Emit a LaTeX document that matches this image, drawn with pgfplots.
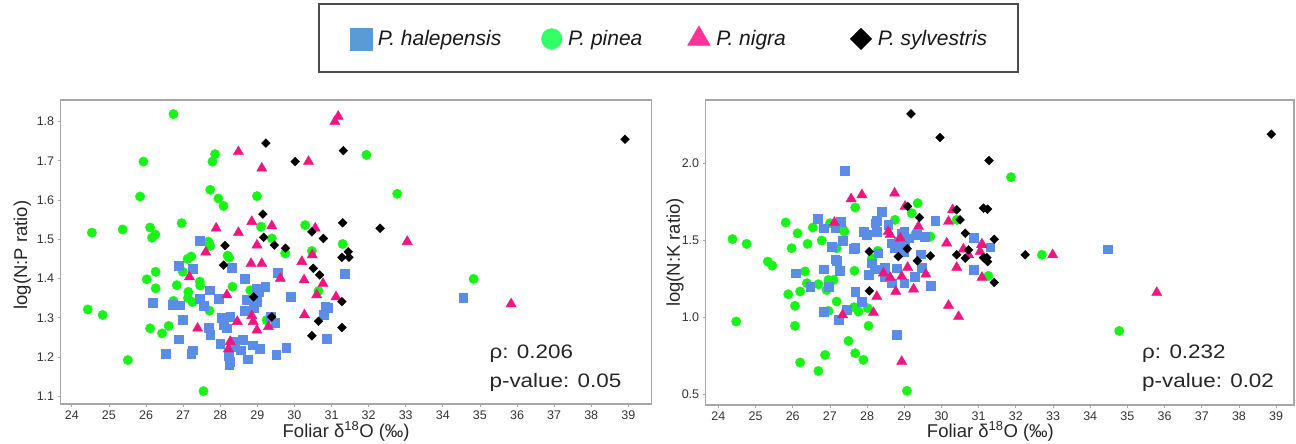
\documentclass[border=0pt]{standalone}
\usepackage{fontspec}
\setmainfont{Liberation Sans}
\newfontfamily\statfont{Liberation Sans}[FakeStretch=1.15]
\usepackage{pgfplots}
\usepackage{pgfplotstable}
\pgfplotsset{compat=1.18}

\definecolor{axgray}{HTML}{A6A6A6}
\definecolor{cblue}{HTML}{5B8DE6}
\definecolor{cgreen}{HTML}{18F418}
\definecolor{cpink}{HTML}{F0167F}
\definecolor{lblue}{HTML}{5B9BD5}
\definecolor{lgreen}{HTML}{33FF66}
\definecolor{lpink}{HTML}{FF3399}

% left panel: log(N:P)
\pgfplotstableread{
x y
26.74 1.819
25.93 1.698
25.84 1.609
26.96 1.541
25.37 1.525
26.11 1.530
24.54 1.517
26.16 1.504
26.25 1.512
26.02 1.398
26.26 1.417
26.26 1.375
24.43 1.321
24.83 1.307
26.11 1.273
26.43 1.260
26.61 1.279
25.51 1.192
27.55 1.113
27.86 1.717
27.79 1.698
27.73 1.626
27.95 1.604
28.09 1.585
28.99 1.610
27.68 1.494
27.73 1.483
27.12 1.450
27.22 1.456
26.99 1.417
26.83 1.383
27.14 1.366
27.13 1.350
27.25 1.340
26.74 1.343
27.45 1.392
27.46 1.382
27.71 1.318
28.20 1.458
28.24 1.453
28.33 1.379
28.81 1.370
29.10 1.532
29.39 1.502
29.75 1.464
30.29 1.536
30.47 1.470
30.65 1.368
29.25 1.294
31.94 1.715
32.77 1.616
31.30 1.488
34.83 1.399
}\npGreen
\pgfplotstableread{
x y
27.44 1.496
26.88 1.433
27.26 1.424
28.31 1.427
29.55 1.415
28.67 1.400
27.71 1.370
27.95 1.348
26.18 1.339
26.71 1.334
26.92 1.332
27.44 1.349
27.55 1.330
26.99 1.294
26.88 1.245
26.54 1.208
27.22 1.209
27.26 1.217
27.68 1.275
27.73 1.257
28.04 1.300
28.27 1.302
28.09 1.283
28.18 1.273
28.00 1.234
28.22 1.203
28.27 1.188
28.24 1.179
28.36 1.239
28.40 1.226
28.56 1.217
28.61 1.243
28.74 1.194
28.65 1.317
28.72 1.345
28.99 1.341
29.04 1.366
28.90 1.324
28.99 1.375
29.21 1.379
28.87 1.230
29.06 1.220
29.48 1.288
29.51 1.205
29.78 1.224
29.89 1.353
29.35 1.302
30.83 1.328
30.87 1.247
31.36 1.413
30.90 1.326
30.78 1.307
34.55 1.352
}\npBlue
\pgfplotstableread{
x y
28.49 1.723
30.38 1.698
29.12 1.681
27.89 1.528
28.49 1.517
28.85 1.545
29.39 1.534
30.56 1.528
28.99 1.485
29.12 1.438
28.83 1.438
27.61 1.467
27.17 1.404
30.20 1.443
30.26 1.396
29.62 1.400
30.48 1.460
30.77 1.387
30.60 1.358
28.18 1.358
28.46 1.290
28.85 1.305
28.89 1.290
28.99 1.268
29.30 1.277
30.27 1.307
27.39 1.273
28.22 1.220
28.27 1.239
31.18 1.813
31.09 1.800
33.04 1.494
31.12 1.353
35.84 1.335
}\npPink
\pgfplotstableread{
x y
29.23 1.745
30.02 1.698
29.15 1.564
29.17 1.505
29.46 1.485
29.76 1.477
28.13 1.484
28.09 1.434
30.51 1.426
30.68 1.409
30.47 1.519
30.78 1.502
28.90 1.353
29.39 1.302
30.65 1.291
30.47 1.254
31.32 1.726
32.31 1.528
31.30 1.542
31.45 1.468
31.28 1.454
31.47 1.454
31.28 1.341
31.28 1.275
38.91 1.755
}\npBlack

% right panel: log(N:K)
\pgfplotstableread{
x y
24.38 1.507
24.76 1.476
24.48 0.972
25.33 1.361
25.45 1.335
25.81 1.615
25.97 1.448
26.13 1.545
26.40 1.476
26.54 1.582
26.78 1.498
25.88 1.149
26.06 1.074
26.06 0.944
26.20 1.167
26.33 1.297
26.38 1.221
26.20 0.706
26.69 0.651
26.87 0.755
26.69 1.214
26.96 1.242
27.10 1.242
26.91 1.177
26.96 1.041
27.18 1.102
27.18 1.448
27.36 1.567
27.39 1.556
27.00 1.610
27.66 1.301
27.68 1.712
27.50 0.846
27.68 0.766
27.77 1.037
27.65 1.065
27.90 0.723
28.02 1.058
28.04 0.944
28.13 1.383
28.29 1.431
28.75 1.632
29.20 1.675
29.36 1.740
29.29 1.535
29.70 1.524
29.07 0.522
30.41 1.632
31.87 1.909
32.70 1.405
31.26 1.268
34.78 0.911
}\nkGreen
\pgfplotstableread{
x y
27.39 1.952
26.67 1.639
26.83 1.578
27.30 1.621
27.14 1.578
27.35 1.498
27.05 1.459
27.18 1.366
27.14 1.377
27.26 1.301
26.83 1.312
26.09 1.286
26.47 1.199
26.96 1.199
26.83 1.037
27.23 0.983
27.45 1.048
27.68 1.167
27.86 1.102
27.63 1.444
27.68 1.452
27.90 1.556
27.99 1.535
28.04 1.275
28.13 1.351
28.20 1.312
28.30 1.416
28.26 1.556
28.22 1.610
28.26 1.625
28.39 1.686
28.47 1.323
28.48 1.264
28.57 1.600
28.66 1.481
28.75 1.448
28.84 1.491
28.93 1.545
29.00 1.556
28.66 1.221
28.80 1.318
29.00 1.221
28.98 1.426
29.02 1.459
29.11 1.513
29.34 1.535
29.54 1.524
29.44 1.409
29.47 1.323
29.29 1.264
29.83 1.628
29.72 1.206
28.80 0.885
30.86 1.307
30.86 1.517
31.31 1.455
34.47 1.442
}\nkBlue
\pgfplotstableread{
x y
27.57 1.768
27.86 1.794
28.74 1.805
27.12 1.615
29.02 1.719
29.38 1.589
28.57 1.556
28.62 1.535
28.89 1.513
28.44 1.286
28.62 1.258
28.77 1.167
28.93 1.264
29.09 1.323
29.25 1.182
29.58 1.279
28.26 1.134
28.17 1.030
27.34 1.015
28.93 0.712
30.14 1.481
30.19 1.621
30.30 1.697
30.19 1.076
30.46 1.004
30.41 1.323
30.59 1.442
30.73 1.405
31.09 1.474
31.09 1.258
31.08 1.470
31.04 1.426
32.99 1.405
35.79 1.160
}\nkPink
\pgfplotstableread{
x y
29.18 2.320
29.96 2.167
28.06 1.426
28.06 1.171
28.84 1.394
29.09 1.719
29.08 1.444
29.41 1.647
29.35 1.366
29.70 1.398
30.41 1.697
30.50 1.632
30.64 1.545
30.41 1.405
30.64 1.383
30.73 1.437
31.13 1.708
31.13 1.387
31.28 2.017
31.24 1.701
31.42 1.506
31.22 1.387
31.24 1.361
31.42 1.225
32.25 1.405
38.87 2.188
}\nkBlack

\pgfplotsset{
  pinepanel/.style={
    scale only axis,
    anchor=south west,
    axis line style={draw=axgray, line width=1.3pt},
    tick pos=left,
    tick align=outside,
    major tick length=3pt,
    tick style={draw=axgray, line width=0.8pt},
    xtick={24,...,39},
    ticklabel style={font=\fontsize{12.5}{14}\selectfont, text=black!80},
    /pgf/number format/assume math mode=true,
    y tick label style={/pgf/number format/.cd, fixed, fixed zerofill, precision=1},
    label style={font=\fontsize{18.5}{21}\selectfont, text=black!85},
    xlabel={Foliar δ\textsuperscript{18}O (‰)},
    legend image code/.code={\draw[#1] plot coordinates {(0pt,0pt)};},
  },
  sqr/.style={only marks, color=cblue, mark=square*, mark size=4.4pt, mark options={fill=cblue, line width=0.4pt}},
  crc/.style={only marks, color=cgreen, mark=*, mark size=4.7pt, mark options={fill=cgreen, line width=0.4pt}},
  tri/.style={only marks, color=cpink, mark=triangle*, mark size=5.9pt, mark options={fill=cpink, line width=0.4pt}},
  dia/.style={only marks, color=black, mark=square*, mark size=3.1pt, mark options={fill=black, line width=0.4pt, rotate=45}},
}

\begin{document}
\begin{tikzpicture}
\path[use as bounding box] (0pt,0pt) rectangle (1296pt,-444pt);

\begin{axis}[
    pinepanel,
    at={(60.7pt,-404pt)},
    width=591pt, height=304pt,
    xmin=23.70, xmax=39.63,
    ymin=1.08, ymax=1.855,
    ytick={1.1,1.2,1.3,1.4,1.5,1.6,1.7,1.8},
    ylabel={log(N:P ratio)},
    xlabel style={at={(axis description cs:0.483,-0.1086)}, anchor=base},
    ylabel style={at={(axis description cs:-0.057,0.49)}, anchor=base},
    legend columns=4,
    legend cell align=left,
    legend style={at={(axis description cs:0.4354,1.319)}, anchor=north west,
        draw=black!70, line width=1.5pt, inner xsep=31pt, inner ysep=22pt,
        font=\fontsize{21}{24}\selectfont\itshape, text=black!90,
        nodes={inner sep=0pt}, column sep=0pt,
        /tikz/every odd column/.append style={column sep=6pt}},
]
\addplot[crc, forget plot] table {\npGreen};
\addplot[sqr, forget plot] table {\npBlue};
\addplot[tri, forget plot] table {\npPink};
\addplot[dia, forget plot] table {\npBlack};

\addlegendimage{only marks, color=lblue, mark=square*, mark size=11.1pt, mark options={fill=lblue, line width=0.4pt}}
\addlegendentry{\makebox[163.5pt][l]{P. halepensis}}
\addlegendimage{only marks, color=lgreen, mark=*, mark size=10.3pt, mark options={fill=lgreen, line width=0.4pt}}
\addlegendentry{\makebox[119.5pt][l]{P. pinea}}
\addlegendimage{only marks, color=lpink, mark=triangle*, mark size=13.1pt, mark options={fill=lpink, line width=0.4pt}}
\addlegendentry{\makebox[134pt][l]{P. nigra}}
\addlegendimage{only marks, color=black, mark=square*, mark size=7.6pt, mark options={fill=black, line width=0.4pt, rotate=45}}
\addlegendentry{P. sylvestris}

\node[anchor=base west, font=\statfont\fontsize{19.5}{22}\selectfont, text=black!85]
    at (axis description cs:0.7197,0.1497) {ρ: 0.206};
\node[anchor=base west, font=\statfont\fontsize{19.5}{22}\selectfont, text=black!85]
    at (axis description cs:0.7197,0.055) {p-value: 0.05};
\end{axis}

\begin{axis}[
    pinepanel,
    at={(705.7pt,-405pt)},
    width=588.3pt, height=305pt,
    xmin=23.66, xmax=39.48,
    ymin=0.43, ymax=2.41,
    ytick={0.5,1.0,1.5,2.0},
    ylabel={log(N:K ratio)},
    xlabel style={at={(axis description cs:0.484,-0.105)}, anchor=base},
    ylabel style={at={(axis description cs:-0.0438,0.5)}, anchor=base},
]
\addplot[crc] table {\nkGreen};
\addplot[sqr] table {\nkBlue};
\addplot[tri] table {\nkPink};
\addplot[dia] table {\nkBlack};

\node[anchor=base west, font=\statfont\fontsize{19.5}{22}\selectfont, text=black!85]
    at (axis description cs:0.736,0.151) {ρ: 0.232};
\node[anchor=base west, font=\statfont\fontsize{19.5}{22}\selectfont, text=black!85]
    at (axis description cs:0.736,0.056) {p-value: 0.02};
\end{axis}
\end{tikzpicture}
\end{document}
